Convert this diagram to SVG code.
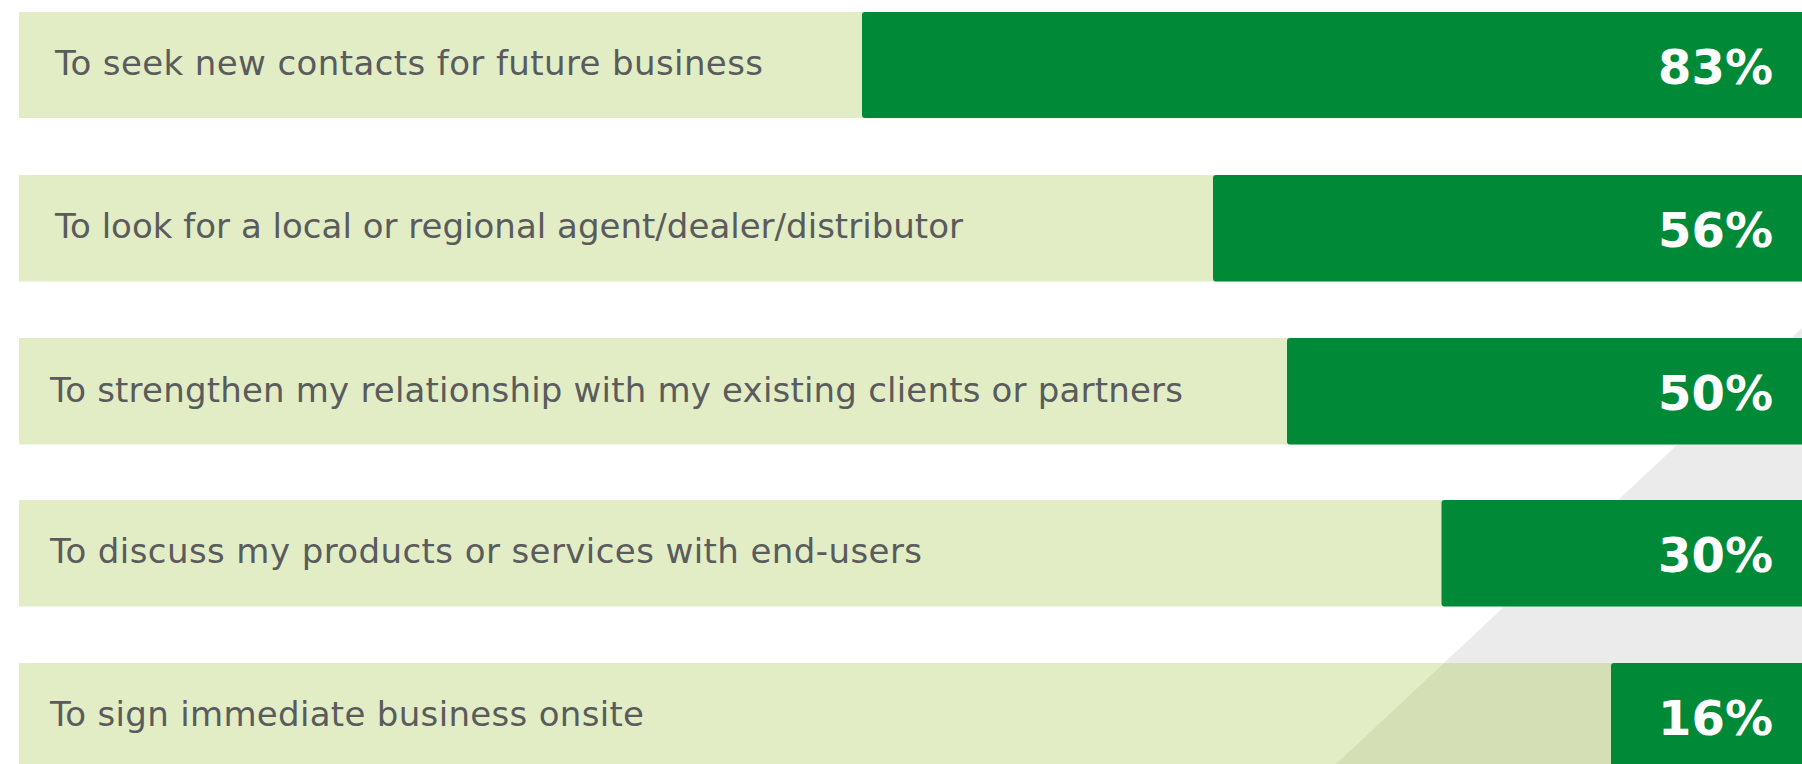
<svg xmlns="http://www.w3.org/2000/svg" width="1802" height="764" viewBox="0 0 1802 764">
<style>
.bg{fill:#e2edc5}
.bar{fill:#008937}
.lbl{font-family:"DejaVu Sans","Liberation Sans",sans-serif;font-size:34px;fill:#5a5b5c}
.pct{font-family:"DejaVu Sans","Liberation Sans",sans-serif;font-size:48px;font-weight:bold;fill:#ffffff;text-anchor:end}
</style>
<rect x="0" y="0" width="1802" height="764" fill="#ffffff"/>
<polygon points="1802,328 1802,764 1336,764" fill="#ebebeb"/>
<g id="row1">
<rect class="bg" x="19" y="12" width="1783" height="106"/>
<rect class="bar" x="862" y="12" width="945" height="106" rx="3"/>
<text class="lbl" x="55" y="75" textLength="708" lengthAdjust="spacing">To seek new contacts for future business</text>
<text class="pct" x="1773" y="83.5">83%</text>
</g>
<g id="row2">
<rect class="bg" x="19" y="175" width="1783" height="106.5"/>
<rect class="bar" x="1213" y="175" width="594" height="106.5" rx="3"/>
<text class="lbl" x="55" y="238" textLength="908" lengthAdjust="spacing">To look for a local or regional agent/dealer/distributor</text>
<text class="pct" x="1773" y="246.5">56%</text>
</g>
<g id="row3">
<rect class="bg" x="19" y="338" width="1783" height="106.5"/>
<rect class="bar" x="1287" y="338" width="520" height="106.5" rx="3"/>
<text class="lbl" x="50" y="402" textLength="1133" lengthAdjust="spacing">To strengthen my relationship with my existing clients or partners</text>
<text class="pct" x="1773" y="409.5">50%</text>
</g>
<g id="row4">
<rect class="bg" x="19" y="500" width="1783" height="106.5"/>
<rect class="bar" x="1441.5" y="500" width="366" height="106.5" rx="3"/>
<text class="lbl" x="50" y="563" textLength="872" lengthAdjust="spacing">To discuss my products or services with end-users</text>
<text class="pct" x="1773" y="571.5">30%</text>
</g>
<g id="row5">
<rect class="bg" x="19" y="663" width="1783" height="106"/>
<polygon points="1444,663 1612,663 1612,764 1336,764" fill="#d5dfb5"/>
<rect class="bar" x="1611" y="663" width="196" height="106" rx="3"/>
<text class="lbl" x="50" y="726" textLength="594" lengthAdjust="spacing">To sign immediate business onsite</text>
<text class="pct" x="1773" y="734.5">16%</text>
</g>
<g id="connectors"></g>
</svg>
